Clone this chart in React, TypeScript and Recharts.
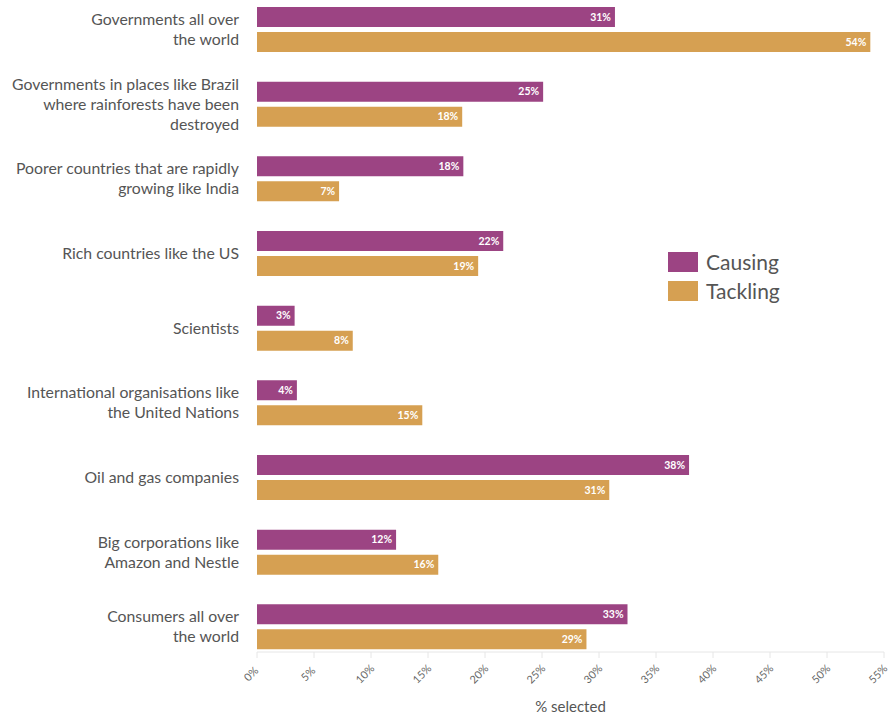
import { BarChart, Bar, XAxis, YAxis, LabelList } from "recharts";

const categories = [
  "Governments all over\nthe world",
  "Governments in places like Brazil\nwhere rainforests have been\ndestroyed",
  "Poorer countries that are rapidly\ngrowing like India",
  "Rich countries like the US",
  "Scientists",
  "International organisations like\nthe United Nations",
  "Oil and gas companies",
  "Big corporations like\nAmazon and Nestle",
  "Consumers all over\nthe world",
];
const causing = [31.4, 25.1, 18.1, 21.6, 3.3, 3.5, 37.9, 12.2, 32.5];
const tackling = [53.8, 18.0, 7.2, 19.4, 8.4, 14.5, 30.9, 15.9, 28.9];
const xTicks = [0, 5, 10, 15, 20, 25, 30, 35, 40, 45, 50, 55];

const PURPLE = "#9c4483";
const ORANGE = "#d6a052";
const FONT = "Lato, 'Open Sans', sans-serif";

const data = categories.map((c, i) => ({
  name: c,
  causing: causing[i],
  tackling: tackling[i],
}));

function CategoryTick(props: any) {
  const { x, y, payload } = props;
  const lines: string[] = String(payload.value).split("\n");
  const lh = 20;
  const start = -((lines.length - 1) * lh) / 2;
  return (
    <text
      x={x}
      y={y}
      textAnchor="end"
      fontFamily={FONT}
      fontSize={15.8}
      fill="#555"
    >
      {lines.map((l, i) => (
        <tspan key={i} x={x} y={y + start + i * lh} dy="0.36em">
          {l}
        </tspan>
      ))}
    </text>
  );
}

function PctTick(props: any) {
  const { x, y, payload } = props;
  const cx = x - 6;
  const cy = y + 14;
  return (
    <text
      x={cx}
      y={cy}
      transform={`rotate(-45, ${cx}, ${cy})`}
      textAnchor="middle"
      dy="0.36em"
      fontFamily={FONT}
      fontSize={10.8}
      fill="#666"
      stroke="none"
    >
      {payload.value}%
    </text>
  );
}

function BarValue(props: any) {
  const { x, y, width, height, value } = props;
  return (
    <text
      x={x + width - 4}
      y={y + height / 2}
      dy="0.36em"
      textAnchor="end"
      fontFamily={FONT}
      fontWeight={700}
      fontSize={10.5}
      fill="#fff"
    >
      {Math.round(value)}%
    </text>
  );
}

const legendItems = [
  { label: "Causing", color: PURPLE },
  { label: "Tackling", color: ORANGE },
];

export default function App() {
  return (
    <div style={{ position: "absolute", left: 0, top: 0, background: "#fff" }}>
      <BarChart
        width={890}
        height={714}
        data={data}
        layout="vertical"
        margin={{ top: 0, right: 6, bottom: 0, left: 0 }}
        barSize={20}
        barGap={5}
      >
        <XAxis
          type="number"
          domain={[0, 55]}
          ticks={xTicks}
          interval={0}
          height={62}
          stroke="#e6e6e6"
          tickLine={{ stroke: "#e6e6e6" }}
          tick={<PctTick />}
          label={{
            value: "% selected",
            position: "insideBottom",
            offset: 2,
            fontFamily: FONT,
            fontSize: 15,
            fill: "#555",
          }}
        />
        <YAxis
          type="category"
          dataKey="name"
          width={257}
          axisLine={false}
          tickLine={false}
          tickMargin={12}
          padding={{ top: -8, bottom: -12 }}
          tick={<CategoryTick />}
        />
        <Bar dataKey="causing" name="Causing" fill={PURPLE} isAnimationActive={false}>
          <LabelList dataKey="causing" content={<BarValue />} />
        </Bar>
        <Bar dataKey="tackling" name="Tackling" fill={ORANGE} isAnimationActive={false}>
          <LabelList dataKey="tackling" content={<BarValue />} />
        </Bar>
      </BarChart>
      {/* legend sits over the empty right side of the plot */}
      <div style={{ position: "absolute", left: 668, top: 247, fontFamily: FONT }}>
        {legendItems.map((it) => (
          <div key={it.label} style={{ display: "flex", alignItems: "center", height: 29 }}>
            <span
              style={{
                display: "inline-block",
                width: 30,
                height: 20,
                background: it.color,
                marginRight: 8,
              }}
            />
            <span style={{ fontSize: 21, color: "#555" }}>{it.label}</span>
          </div>
        ))}
      </div>
    </div>
  );
}
